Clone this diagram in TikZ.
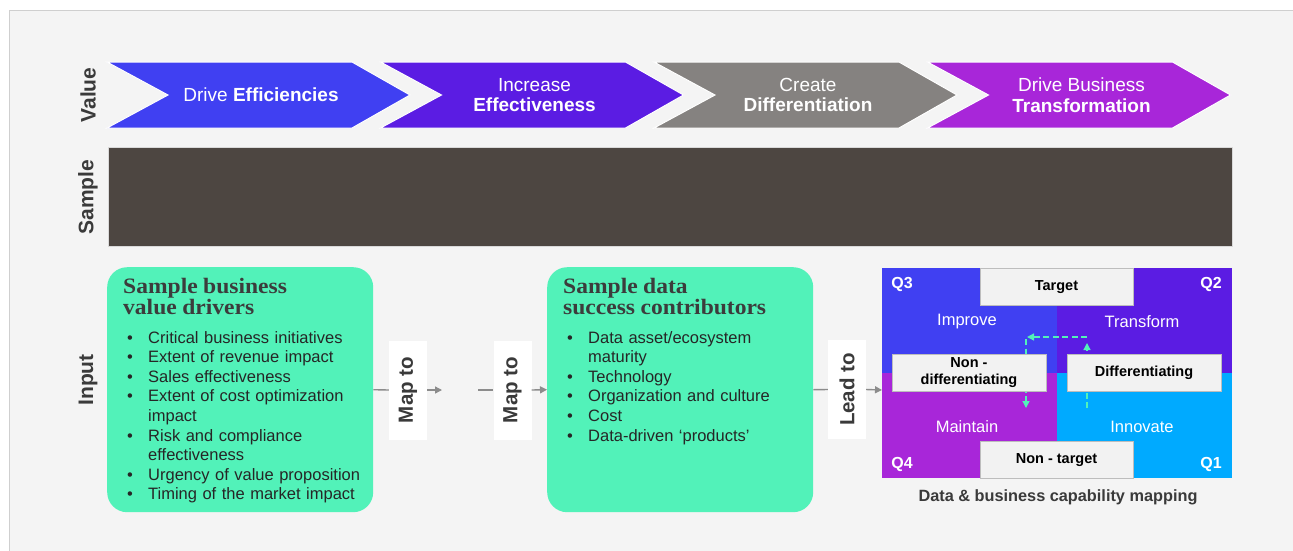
\documentclass[tikz,border=0pt]{standalone}
\usepackage{fontspec}
\setmainfont{Liberation Sans}
\newfontfamily\titlefont{Liberation Serif}[FakeStretch=1.07]
\usetikzlibrary{arrows.meta}

\definecolor{panelbg}{HTML}{F4F4F4}
\definecolor{panelline}{HTML}{CFCFCF}
\definecolor{blueq}{HTML}{4040F2}
\definecolor{violetq}{HTML}{5B1CE3}
\definecolor{grayq}{HTML}{858280}
\definecolor{purpleq}{HTML}{A826D9}
\definecolor{cyanq}{HTML}{00AAFF}
\definecolor{mint}{HTML}{52F2B9}
\definecolor{samplebar}{HTML}{4D4641}
\definecolor{labeldark}{HTML}{3A3A3A}
\definecolor{textdark}{HTML}{262626}
\definecolor{linkgray}{HTML}{8C8C8C}
\definecolor{tagbg}{HTML}{F2F2F2}
\definecolor{taggray}{HTML}{BDBDBD}

% bullet lines inside the green boxes
\newcommand\bitem[1]{\makebox[25pt][l]{\hspace{4pt}\textbullet}#1}
\newcommand\bcont[1]{\hspace*{25pt}#1}

\begin{document}
\begin{tikzpicture}[x=1pt, y=-1pt,
  every node/.style={font=\fontsize{16.5}{19.6}\selectfont, text=textdark},
  valuetext/.style={text=white, align=center, font=\fontsize{19}{20.5}\selectfont},
  rowlabel/.style={rotate=90, text=labeldark, font=\fontsize{21}{24}\selectfont\bfseries},
  greenbox/.style={fill=mint, rounded corners=20pt, anchor=north west, minimum width=266pt, minimum height=245pt},
  boxtext/.style={anchor=north west, align=left, inner sep=0pt, text width=250pt},
  maplabel/.style={fill=white, inner sep=0pt, minimum width=38pt, minimum height=99pt, text=labeldark, font=\fontsize{20.5}{22}\selectfont\bfseries},
  link/.style={draw=linkgray, line width=1.4pt},
  linkarrow/.style={link, -{Triangle[length=7pt, width=7pt]}},
  quadtag/.style={fill=tagbg, draw=taggray, line width=0.8pt, inner sep=0pt, minimum width=153pt, minimum height=37pt, align=center, text=black, font=\fontsize{14.5}{17}\selectfont\bfseries},
  quadname/.style={text=white},
  qnum/.style={text=white, font=\fontsize{16}{18}\selectfont\bfseries},
  flow/.style={draw=mint, dashed, dash pattern=on 6pt off 3.5pt, line width=1.3pt, -{Triangle[length=7pt, width=7pt]}}]
  \useasboundingbox (0,0) rectangle (1293,550);

  % Panel
  \draw[fill=panelbg, draw=panelline, line width=1pt] (9.5,10.5) rectangle (1300,560);

  % Row labels
  \node[rowlabel] (valuelbl) at (88,95) {Value};
  \node[rowlabel] (samplelbl) at (88,197) {Sample};
  \node[rowlabel] (inputlbl) at (88,380) {Input};

  % Value chevrons
  \foreach \i/\c/\txt in {0/blueq/{Drive \textbf{Efficiencies}},
      1/violetq/{Increase\\\textbf{Effectiveness}},
      2/grayq/{Create\\\textbf{Differentiation}},
      3/purpleq/{Drive Business\\\textbf{Transformation}}} {
    \pgfmathsetmacro{\L}{107+273.5*\i}
    \draw[fill=\c, draw=white, line width=1pt] (\L,62) -- ++(245,0) -- ++(58,33)
      -- ++(-58,33) -- ++(-245,0) -- ++(61,-33) -- cycle;
    \node[valuetext] (value\i) at (\L+154,95) {\txt};
  }

  % Sample bar
  \draw[fill=samplebar, draw=gray!30, line width=0.8pt] (108,147) rectangle (1232,246);

  % Input boxes
  \node[greenbox] (drivers) at (107,267) {};
  \node[boxtext] (driverstext) at ([xshift=16pt, yshift=-11pt]drivers.north west) {%
    {\titlefont\bfseries\fontsize{22}{21}\selectfont\color{textdark!90!white} Sample business\\value drivers\par}
    \vspace{9pt}
    \bitem{Critical business initiatives}\\
    \bitem{Extent of revenue impact}\\
    \bitem{Sales effectiveness}\\
    \bitem{Extent of cost optimization}\\
    \bcont{impact}\\
    \bitem{Risk and compliance}\\
    \bcont{effectiveness}\\
    \bitem{Urgency of value proposition}\\
    \bitem{Timing of the market impact}};

  \node[greenbox] (contrib) at (547,267) {};
  \node[boxtext] (contribtext) at ([xshift=16pt, yshift=-11pt]contrib.north west) {%
    {\titlefont\bfseries\fontsize{22}{21}\selectfont\color{textdark!90!white} Sample data\\success contributors\par}
    \vspace{9pt}
    \bitem{Data asset/ecosystem}\\
    \bcont{maturity}\\
    \bitem{Technology}\\
    \bitem{Organization and culture}\\
    \bitem{Cost}\\
    \bitem{Data-driven ‘products’}};

  % Links between the inputs
  \node[maplabel] (map1) at (408,390) {\rotatebox{90}{Map to}};
  \node[maplabel] (map2) at (512.5,390) {\rotatebox{90}{Map to}};
  \node[maplabel] (lead) at (847,389.5) {\rotatebox{90}{Lead to}};
  \coordinate (gap1) at (442,390);
  \coordinate (gap2) at (478,390);
  \coordinate (quadin) at (882,390);
  \draw[link] (drivers.east) -- (map1.west);
  \draw[linkarrow] (map1.east) -- (gap1);
  \draw[link] (gap2) -- (map2.west);
  \draw[linkarrow] (map2.east) -- (contrib.west);
  \draw[link] (contrib.east) -- (lead.west);
  \draw[linkarrow] (lead.east) -- (quadin);

  % Capability quadrants
  \fill[blueq] (882,268) rectangle (1057,373);
  \fill[violetq] (1057,268) rectangle (1232,373);
  \fill[purpleq] (882,373) rectangle (1057,478);
  \fill[cyanq] (1057,373) rectangle (1232,478);

  \node[quadname] (improve) at (967,322) {Improve};
  \node[quadname] (transform) at (1142,322) {Transform};
  \node[quadname] (maintain) at (967,427) {Maintain};
  \node[quadname] (innovate) at (1142,427) {Innovate};
  \node[qnum] (q3) at (902,284) {Q3};
  \node[qnum] (q2) at (1211,284) {Q2};
  \node[qnum] (q4) at (902,464) {Q4};
  \node[qnum] (q1) at (1211,464) {Q1};

  % Moves between quadrants
  \coordinate (upfrom) at (1087,408);
  \coordinate (upto) at (1087,343);
  \coordinate (leftfrom) at (1087,337);
  \coordinate (leftto) at (1027,337);
  \coordinate (downfrom) at (1026,339);
  \coordinate (downto) at (1026,408);
  \draw[flow] (upfrom) -- (upto);
  \draw[flow] (leftfrom) -- (leftto);
  \draw[flow] (downfrom) -- (downto);

  \node[quadtag] (target) at (1056.5,287) {Target};
  \node[quadtag] (nontarget) at (1056.5,460) {Non - target};
  \node[quadtag, minimum width=154pt] (nondiff) at (969,372.5) {Non -\\differentiating};
  \node[quadtag, minimum width=154pt] (diff) at (1144,372.5) {Differentiating};

  \node[text=labeldark, font=\fontsize{16.3}{18}\selectfont\bfseries] (mapcaption) at (1058,497)
    {Data \& business capability mapping};
\end{tikzpicture}
\end{document}
